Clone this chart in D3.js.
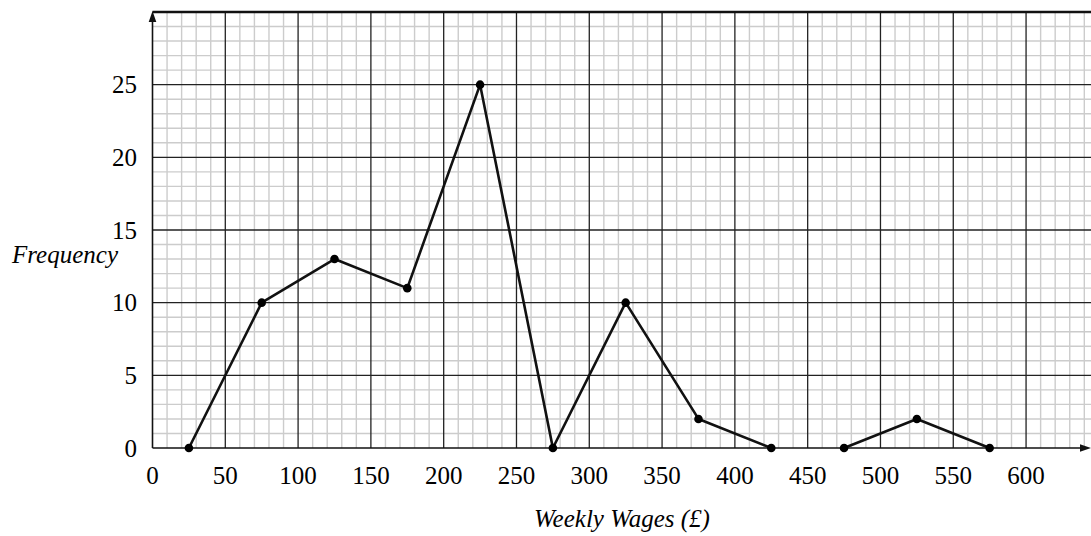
<!DOCTYPE html>
<html><head><meta charset="utf-8">
<script src="https://cdn.jsdelivr.net/npm/d3@7"></script>
<style>html,body{margin:0;padding:0;background:#fff;}svg{display:block;}
text{font-family:"Liberation Serif","Times New Roman",Tinos,"DejaVu Serif",serif;}</style>
</head><body>
<svg id="c" width="1091" height="536"></svg>
<script>
const midpoints = [25, 75, 125, 175, 225, 275, 325, 375, 425, 475, 525, 575];
const frequencies = [0, 10, 13, 11, 25, 0, 10, 2, 0, 0, 2, 0];
const xTicks = [0, 50, 100, 150, 200, 250, 300, 350, 400, 450, 500, 550, 600];
const yTicks = [0, 5, 10, 15, 20, 25];
const xTitle = "Weekly Wages (£)";
const yTitle = "Frequency";

const svg = d3.select("#c");
const x = d3.scaleLinear().domain([0, 644.6]).range([152.5, 1091]);
const y = d3.scaleLinear().domain([0, 30]).range([448, 12]);

const g = svg.append("g");
// minor grid
const minorX = d3.range(10, 645, 10).filter(v => v % 50 !== 0);
const minorY = d3.range(1, 30, 1).filter(v => v % 5 !== 0);
g.selectAll(".mx").data(minorX).enter().append("line")
  .attr("x1", d => x(d)).attr("x2", d => x(d)).attr("y1", y(0)).attr("y2", y(30))
  .attr("stroke", "#cccccc").attr("stroke-width", 1.4);
g.selectAll(".my").data(minorY).enter().append("line")
  .attr("x1", x(0)).attr("x2", 1091).attr("y1", d => y(d)).attr("y2", d => y(d))
  .attr("stroke", "#cccccc").attr("stroke-width", 1.4);
// major grid
g.selectAll(".Mx").data(xTicks.filter(v => v > 0)).enter().append("line")
  .attr("x1", d => x(d)).attr("x2", d => x(d)).attr("y1", y(0)).attr("y2", y(30))
  .attr("stroke", "#222").attr("stroke-width", 1.3);
g.selectAll(".My").data(yTicks.filter(v => v > 0)).enter().append("line")
  .attr("x1", x(0)).attr("x2", 1091).attr("y1", d => y(d)).attr("y2", d => y(d))
  .attr("stroke", "#222").attr("stroke-width", 1.3);
// top border
g.append("line").attr("x1", x(0)).attr("x2", 1091).attr("y1", y(30)).attr("y2", y(30))
  .attr("stroke", "#111").attr("stroke-width", 2.4);
// axes
g.append("line").attr("x1", x(0)).attr("x2", 1086).attr("y1", y(0)).attr("y2", y(0))
  .attr("stroke", "#111").attr("stroke-width", 1.6);
g.append("line").attr("x1", x(0)).attr("x2", x(0)).attr("y1", y(0)).attr("y2", y(30) + 6)
  .attr("stroke", "#111").attr("stroke-width", 1.6);
// arrows
g.append("path").attr("d", `M${x(0)},${y(30)-1} L${x(0)-3.8},${y(30)+10} L${x(0)+3.8},${y(30)+10} Z`).attr("fill", "#111");
g.append("path").attr("d", `M1091,${y(0)} L1080,${y(0)-3.8} L1080,${y(0)+3.8} Z`).attr("fill", "#111");

// tick labels
svg.selectAll(".xt").data(xTicks).enter().append("text")
  .attr("x", d => x(d)).attr("y", 484).attr("text-anchor", "middle")
  .attr("font-size", 25).attr("fill", "#000").text(d => d);
svg.selectAll(".yt").data(yTicks).enter().append("text")
  .attr("x", 137).attr("y", d => y(d) + 8.5).attr("text-anchor", "end")
  .attr("font-size", 25).attr("fill", "#000").text(d => d);
svg.append("text").attr("x", 118).attr("y", 263).attr("text-anchor", "end")
  .attr("font-style", "italic").attr("font-size", 25).attr("fill", "#000").text(yTitle);
svg.append("text").attr("x", 622).attr("y", 527).attr("text-anchor", "middle")
  .attr("font-style", "italic").attr("font-size", 25).attr("fill", "#000").text(xTitle);

// polygon
const pts = midpoints.map((m, i) => ({x: m, y: frequencies[i]}));
const segs = [];
let cur = [pts[0]];
for (let i = 1; i < pts.length; i++) {
  if (pts[i].y === 0 && pts[i-1].y === 0) { segs.push(cur); cur = [pts[i]]; }
  else cur.push(pts[i]);
}
segs.push(cur);
const line = d3.line().x(d => x(d.x)).y(d => y(d.y));
svg.selectAll(".seg").data(segs).enter().append("path")
  .attr("d", line).attr("fill", "none").attr("stroke", "#111").attr("stroke-width", 2.6)
  .attr("stroke-linejoin", "round");
svg.selectAll(".dot").data(pts).enter().append("circle")
  .attr("cx", d => x(d.x)).attr("cy", d => y(d.y)).attr("r", 4.3).attr("fill", "#000");
</script>
</body></html>
